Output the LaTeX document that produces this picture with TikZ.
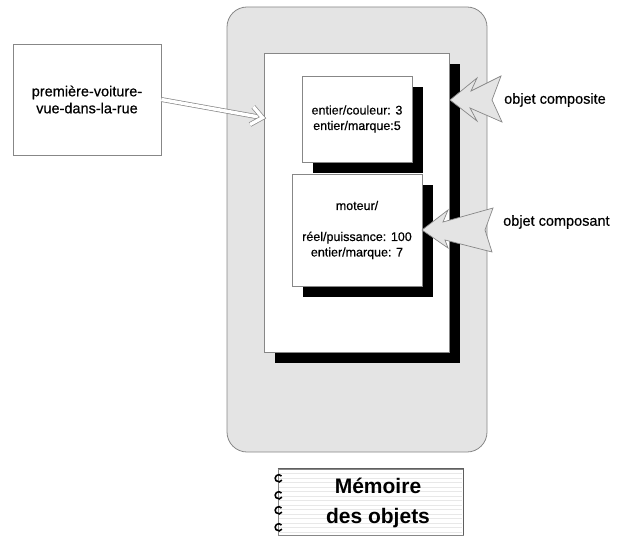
\documentclass[tikz,border=0pt]{standalone}
\usepackage{fontspec}
\setmainfont{Liberation Sans}
\usetikzlibrary{calc}
\definecolor{panelgray}{HTML}{E4E4E4}
\definecolor{edgegray}{HTML}{878787}
\definecolor{ruleline}{HTML}{E8E8E8}
\newcommand{\heavier}{\addfontfeature{FakeBold=0.5}}
\begin{document}
\begin{tikzpicture}[x=1pt,y=-1pt,
  box/.style={draw=edgegray, line width=0.8pt, fill=white, inner sep=0pt,
    align=center, font=\fontsize{12.5}{15.5}\selectfont\heavier},
  shade/.style={fill=black, draw=none, inner sep=0pt},
  callout/.style={fill=panelgray, draw=edgegray, line width=0.7pt, line join=miter},
  calltext/.style={anchor=west, inner sep=0pt, font=\fontsize{14.5}{17}\selectfont\heavier},
  pointer/.style={draw=edgegray, line width=0.7pt, double=white, double distance=3.4pt}
]
\useasboundingbox (0,0) rectangle (617,537);

% object memory panel
\node[draw=edgegray, fill=panelgray, line width=0.8pt, rounded corners=20pt,
  minimum width=260pt, minimum height=445pt, inner sep=0pt] (panel) at (357,229.5) {};

% composite object with its shadow
\node[shade, minimum width=185pt, minimum height=299pt] (comp-sh) at (367.5,213.5) {};
\node[box, minimum width=185pt, minimum height=299pt] (comp) at (356.5,202.5) {};

% first part: colour and brand
\node[shade, minimum width=110pt, minimum height=86pt] (attr-sh) at (367.5,130.5) {};
\node[box, minimum width=110pt, minimum height=86pt] (attr) at (357,119)
  {entier/couleur: 3\\entier/marque:5};

% component object: engine
\node[shade, minimum width=130pt, minimum height=112pt] (motor-sh) at (368,241) {};
\node[box, minimum width=130pt, minimum height=112pt] (motor) at (357,230)
  {moteur/\\[15.5pt]réel/puissance: 100\\entier/marque: 7};

% jagged callout arrows
\coordinate (tip1) at (450,100);
\draw[callout] (tip1) -- (477,78) -- (471,91) -- (501,76) -- (492,100) -- (502,122)
  -- (470,108) -- (477,121) -- cycle;
\node[calltext] (lab1) at (504,100) {objet composite};

\coordinate (tip2) at (422,230);
\draw[callout] (tip2) -- (448,210) -- (443,222) -- (493,208) -- (485,230) -- (492,252)
  -- (445,240) -- (448,248) -- cycle;
\node[calltext] (lab2) at (503,222) {objet composant};

% variable referencing the object
\node[box, minimum width=148pt, minimum height=111pt,
  font=\fontsize{14.5}{17}\selectfont\heavier] (var) at (87,99.5)
  {première-voiture-\\vue-dans-la-rue};
\coordinate (entry) at (264.5,118);
% hollow shaft, then the open chevron head on top of it
\draw[pointer] (var.east) -- ($(var.east)!0.96!(entry)$);
\begin{scope}[shift={(entry)}, rotate=-10.4]
  \draw[pointer, line join=miter] (-13,-9) -- (-2,0) -- (-13,9);
\end{scope}

% notebook caption
\node[draw=edgegray, fill=white, line width=0.8pt, minimum width=185pt,
  minimum height=66pt, inner sep=0pt] (memo) at (370.5,502) {};
\foreach \ly in {473.5,478,...,533}
  \draw[ruleline, line width=0.4pt] (279,\ly) -- (462,\ly);
\draw[edgegray!70!black, line width=0.9pt] (memo.north west) -- (memo.north east) -- (memo.south east);
\foreach \cy in {478,495,510,527}
  \draw[black, line width=1.6pt] (281.5,\cy-2) arc[start angle=40, end angle=330, radius=3.6pt];
\node[inner sep=0pt, align=center, font=\fontsize{21}{30}\selectfont\bfseries]
  (memotext) at (378,503) {Mémoire\\des objets};
\end{tikzpicture}
\end{document}
